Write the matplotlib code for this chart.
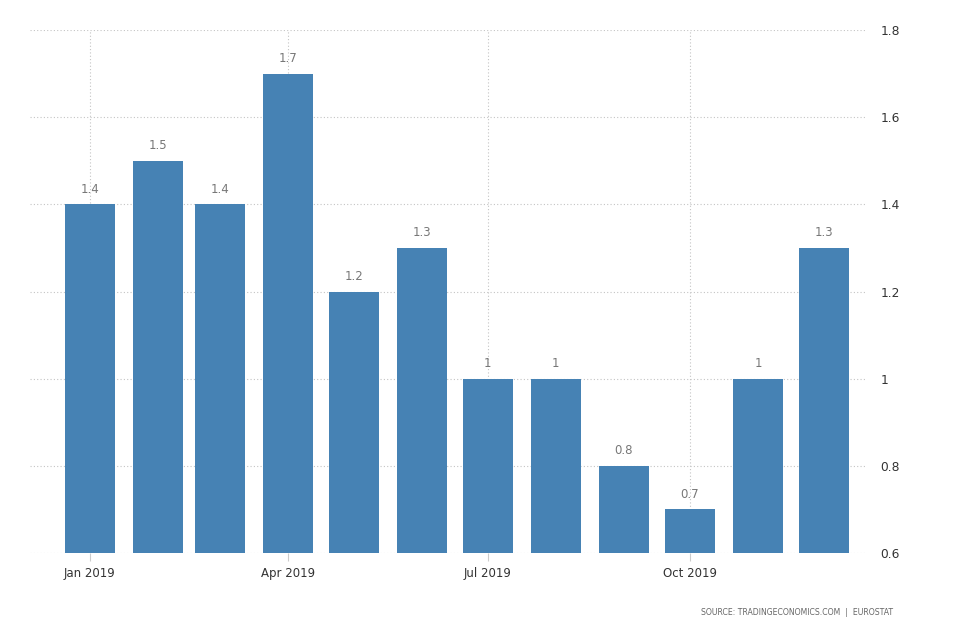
import numpy as np
import pandas as pd
import matplotlib
matplotlib.use("Agg")
from matplotlib import pyplot as plt

# data
months = pd.date_range("2019-01-01", "2019-12-01", freq="MS")
values = [1.4, 1.5, 1.4, 1.7, 1.2, 1.3, 1.0, 1.0, 0.8, 0.7, 1.0, 1.3]
labels = ["1.4", "1.5", "1.4", "1.7", "1.2", "1.3", "1", "1", "0.8", "0.7", "1", "1.3"]
yticks = [0.6, 0.8, 1.0, 1.2, 1.4, 1.6, 1.8]
ytick_labels = ["0.6", "0.8", "1", "1.2", "1.4", "1.6", "1.8"]
xtick_dates = pd.to_datetime(["2019-01-01", "2019-04-01", "2019-07-01", "2019-10-01"])
xtick_labels = ["Jan 2019", "Apr 2019", "Jul 2019", "Oct 2019"]

fig = plt.figure(figsize=(9.54, 6.36), dpi=100)
ax = fig.add_axes([0.0314, 0.1305, 0.8753, 0.8223])

ax.bar(months, np.array(values) - 0.6, bottom=0.6, width=22.7, color="#4682b4", zorder=3)

for d, v, s in zip(months, values, labels):
    ax.text(d, v + 0.02, s, ha="center", va="bottom", fontsize=8.5, color="#777777")

ax.set_ylim(0.6, 1.8)
ax.set_xlim(months[0] - pd.Timedelta(days=27.3), months[-1] + pd.Timedelta(days=18.7))

ax.yaxis.tick_right()
ax.set_yticks(yticks)
ax.set_yticklabels(ytick_labels, fontsize=8.8, color="#333333")
ax.tick_params(axis="y", length=0, pad=11)

ax.set_xticks(xtick_dates)
ax.set_xticklabels(xtick_labels, fontsize=8.5, color="#333333")
ax.tick_params(axis="x", length=6, color="#cccccc", pad=4)

ax.grid(True, color="#c4c4c4", linestyle=(0, (1, 2)), linewidth=0.8, zorder=0)
for sp in ax.spines.values():
    sp.set_visible(False)

fig.text(0.9367, 0.037, "SOURCE: TRADINGECONOMICS.COM  |  EUROSTAT", ha="right", va="center",
         fontsize=5.6, color="#666666")

plt.savefig("out.png", dpi=100)
